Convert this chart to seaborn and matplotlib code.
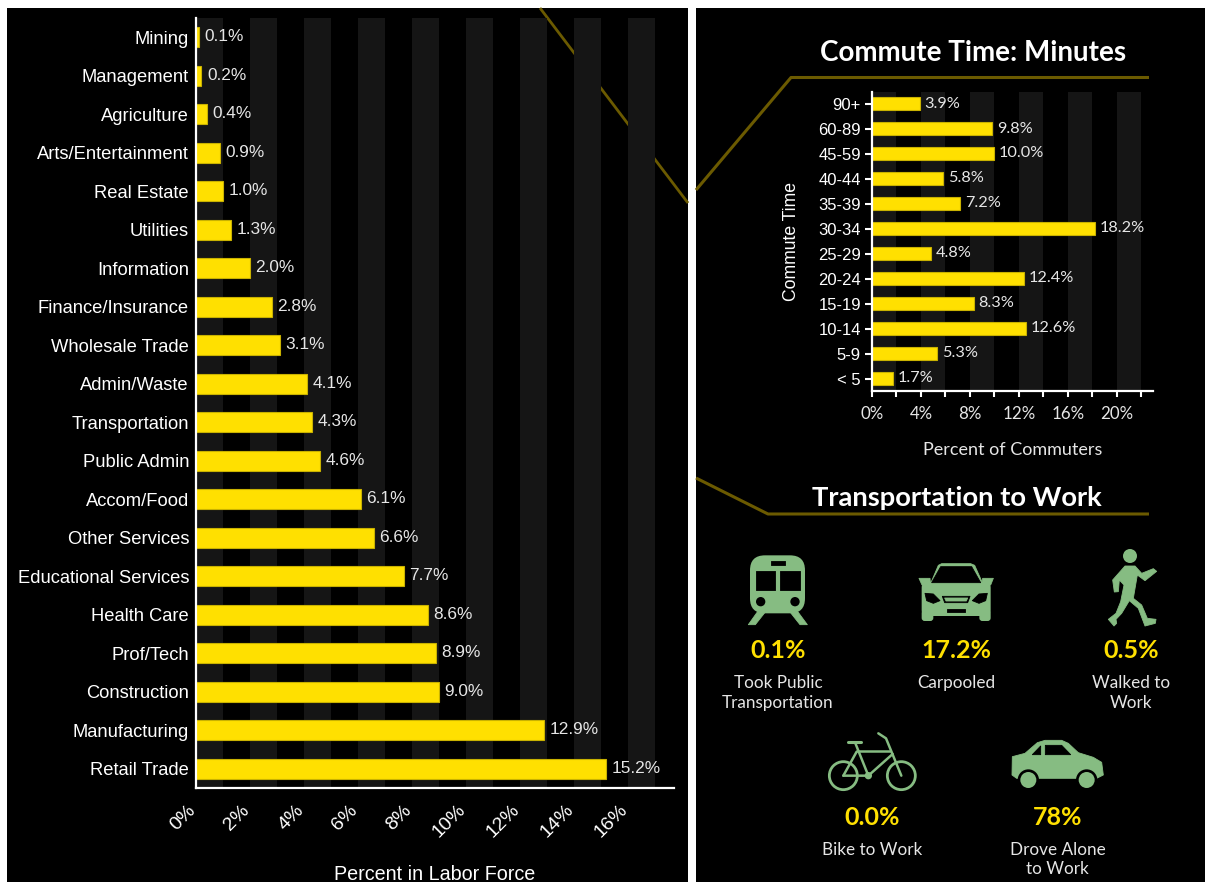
import matplotlib
matplotlib.use('Agg')
import matplotlib.pyplot as plt
import numpy as np
import pandas as pd
import seaborn as sns
from matplotlib.patches import Circle, FancyBboxPatch, Polygon, Rectangle
from matplotlib.transforms import ScaledTranslation

industries = ['Mining', 'Management', 'Agriculture', 'Arts/Entertainment', 'Real Estate',
              'Utilities', 'Information', 'Finance/Insurance', 'Wholesale Trade', 'Admin/Waste',
              'Transportation', 'Public Admin', 'Accom/Food', 'Other Services',
              'Educational Services', 'Health Care', 'Prof/Tech', 'Construction',
              'Manufacturing', 'Retail Trade']
industry_pct = [0.1, 0.2, 0.4, 0.9, 1.0, 1.3, 2.0, 2.8, 3.1, 4.1,
                4.3, 4.6, 6.1, 6.6, 7.7, 8.6, 8.9, 9.0, 12.9, 15.2]
industry_ticks = [0, 2, 4, 6, 8, 10, 12, 14, 16]

commute_bins = ['90+', '60-89', '45-59', '40-44', '35-39', '30-34',
                '25-29', '20-24', '15-19', '10-14', '5-9', '< 5']
commute_pct = [3.9, 9.8, 10.0, 5.8, 7.2, 18.2, 4.8, 12.4, 8.3, 12.6, 5.3, 1.7]
commute_ticks = [0, 2, 4, 6, 8, 10, 12, 14, 16, 18, 20, 22]
commute_tick_labels = ['0%', '', '4%', '', '8%', '', '12%', '', '16%', '', '20%', '']

transport_pct = ['0.1%', '17.2%', '0.5%', '0.0%', '78%']
transport_names = ['Took Public\nTransportation', 'Carpooled', 'Walked to\nWork',
                   'Bike to Work', 'Drove Alone\nto Work']

W, H = 1205, 882
YELLOW = '#FFE000'
BAR_EDGE = '#C9B200'
GOLD = '#6B5A00'
BAND = '#151515'
GREEN = '#86BC82'
TEXT = '#E6E6E6'

sns.set_style('white')
plt.rcParams['font.family'] = ['Liberation Sans', 'DejaVu Sans']


def px_axes(fig, left, top, right, bottom):
    return fig.add_axes([left / W, 1 - bottom / H, (right - left) / W, (bottom - top) / H], zorder=2)


def draw_bars(ax, cats, vals, bar_h, band_step, x_max, label_font, label_size, pad):
    df = pd.DataFrame({'cat': cats, 'pct': vals})
    ax.patch.set_visible(False)
    for start in np.arange(0, x_max, band_step * 2):
        ax.axvspan(start, min(start + band_step, x_max), color=BAND, lw=0, zorder=0)
    sns.barplot(data=df, x='pct', y='cat', orient='h', color=YELLOW, saturation=1, width=bar_h,
                edgecolor=BAR_EDGE, linewidth=0.8, ax=ax, zorder=2)
    anns = ax.bar_label(ax.containers[0], labels=['{:.1f}%'.format(v) for v in vals], padding=pad,
                        color=TEXT, fontsize=label_size, family=label_font)
    # value labels sit a little above the bar centre
    for ann in anns:
        ann.xyann = (ann.xyann[0], ann.xyann[1] + 0.3)
    ax.set_xlim(0, x_max)
    ax.set_ylim(len(cats) - 0.5, -0.5)
    sns.despine(ax=ax)
    for side in ['left', 'bottom']:
        ax.spines[side].set_color('white')
        ax.spines[side].set_linewidth(1.6)


fig = plt.figure(figsize=(W / 100, H / 100), dpi=100, facecolor='white')

# full-figure layer in pixel coordinates for panels, rules, titles, icons
bg = fig.add_axes([0, 0, 1, 1], zorder=1)
bg.set_xlim(0, W)
bg.set_ylim(H, 0)
bg.axis('off')
bg.add_patch(Rectangle((7, 8), 681, H - 8, color='black', lw=0))
bg.add_patch(Rectangle((696, 8), W - 696, H - 8, color='black', lw=0))

bg.plot([540, 688], [8, 203], color=GOLD, lw=2, solid_capstyle='butt')
bg.plot([696, 791, 1149], [190, 77.5, 77.5], color=GOLD, lw=2.2, solid_capstyle='butt')
bg.plot([696, 768, 1149], [478, 514, 514], color=GOLD, lw=2.2, solid_capstyle='butt')

# left chart
ax1 = px_axes(fig, 196, 18, 674, 788)
draw_bars(ax1, industries, industry_pct, 0.52, 1, 17.72, 'Liberation Sans', 12.4, 4)
ax1.set_xticks(industry_ticks)
ax1.set_xticklabels(['{}%'.format(t) for t in industry_ticks], rotation=45, ha='right', va='center',
                    rotation_mode='anchor', color='white', fontsize=14)
ax1.tick_params(axis='x', length=0, pad=14)
for lab in ax1.get_xticklabels():
    lab.set_transform(lab.get_transform() + ScaledTranslation(-2 / 72, 0, fig.dpi_scale_trans))
ax1.tick_params(axis='y', length=0, pad=5, labelsize=13.2, labelcolor='white')
ax1.set_xlabel('Percent in Labor Force', color='white', fontsize=14.2)
ax1.xaxis.set_label_coords(0.5, -0.1)
ax1.set_ylabel('')

# right chart
ax2 = px_axes(fig, 872, 91.5, 1153, 391)
draw_bars(ax2, commute_bins, commute_pct, 0.52, 2, 22.97, 'Lato', 11.7, 3.5)
ax2.set_xticks(commute_ticks)
ax2.set_xticklabels(commute_tick_labels, color=TEXT, fontsize=12.2, family='Lato')
ax2.tick_params(axis='x', length=4.5, width=1.5, color='white', pad=6, bottom=True)
ax2.tick_params(axis='y', length=5, width=1.5, color='white', pad=3, left=True,
                labelsize=12, labelcolor='white')
ax2.set_xlabel('Percent of Commuters', color=TEXT, fontsize=13, family='Lato', labelpad=15)
ax2.set_ylabel('Commute Time', color='white', fontsize=12.7, labelpad=13)

# titles
bg.text(973.5, 53, 'Commute Time: Minutes', color='white', fontsize=20, fontweight='bold',
        family='Lato', ha='center', va='center')
bg.text(956.5, 497.5, 'Transportation to Work', color='white', fontsize=19.7, fontweight='bold',
        family='Lato', ha='center', va='center')


# icons are sketched in coordinates of a 3x crop starting at (700, 530)
def cx(x):
    return 700 + x / 3


def cy(y):
    return 530 + y / 3


def poly(points, color=GREEN):
    pts = [(cx(x), cy(y)) for x, y in points]
    bg.add_patch(Polygon(pts, closed=True, facecolor=color, edgecolor=color, lw=0.6, joinstyle='round'))


def disc(x, y, r, color=GREEN):
    bg.add_patch(Circle((cx(x), cy(y)), r / 3, facecolor=color, edgecolor='none'))


def ring(x, y, r, lw=2):
    bg.add_patch(Circle((cx(x), cy(y)), r / 3, facecolor='none', edgecolor=GREEN, lw=lw))


def stroke(points, lw=2):
    bg.plot([cx(p[0]) for p in points], [cy(p[1]) for p in points], color=GREEN, lw=lw,
            solid_capstyle='round', solid_joinstyle='round')


def box(x0, y0, x1, y1, rad, color=GREEN):
    bg.add_patch(FancyBboxPatch((cx(x0) + rad, cy(y0) + rad), (x1 - x0) / 3 - 2 * rad,
                                (y1 - y0) / 3 - 2 * rad, boxstyle='round,pad={}'.format(rad),
                                facecolor=color, edgecolor='none', mutation_aspect=1))


# train
box(150, 76, 315, 250, 15)
poly([(167, 122), (225, 122), (225, 180), (167, 180)], 'black')
poly([(241, 122), (300, 122), (300, 180), (241, 180)], 'black')
poly([(212, 92), (255, 92), (255, 105), (212, 105)], 'black')
disc(182, 215, 14, 'black')
disc(285, 215, 14, 'black')
poly([(172, 246), (196, 246), (166, 284), (145, 284)])
poly([(270, 246), (294, 246), (322, 284), (300, 284)])

# front car
poly([(692, 160), (715, 106), (725, 101), (812, 101), (824, 106), (848, 160)])
poly([(657, 145), (690, 145), (692, 165), (666, 165)])
poly([(848, 145), (880, 145), (872, 165), (846, 165)])
box(665, 155, 872, 258, 6)
box(665, 240, 700, 273, 3)
box(838, 240, 872, 273, 3)
poly([(695, 158), (722, 110), (815, 110), (842, 158)], 'black')
poly([(675, 190), (700, 192), (720, 212), (700, 220), (680, 212)], 'black')
poly([(862, 190), (837, 192), (817, 212), (837, 220), (857, 212)], 'black')
poly([(727, 199), (810, 199), (803, 218), (734, 218)], 'black')
poly([(734, 204), (803, 204), (799, 213), (738, 213)])
poly([(742, 238), (795, 238), (795, 245), (742, 245)], 'black')

# walker
disc(1290, 78, 21)
poly([(1275, 108), (1305, 108), (1325, 130), (1360, 116), (1370, 124), (1335, 152), (1312, 135),
      (1300, 205), (1325, 225), (1342, 265), (1368, 268), (1366, 280), (1335, 288), (1315, 235),
      (1288, 212), (1265, 250), (1248, 268), (1250, 280), (1242, 288), (1225, 268), (1248, 250),
      (1262, 215), (1272, 165), (1258, 150), (1255, 185), (1243, 186), (1238, 150)])

# bicycle
ring(430, 737, 42)
ring(604, 737, 42)
disc(505, 737, 11)
stroke([(430, 737), (505, 737), (578, 672)], 1.8)
stroke([(430, 737), (470, 665)], 1.8)
stroke([(470, 662), (570, 662)], 1.8)
stroke([(445, 637), (484, 637)], 2.2)
stroke([(465, 637), (505, 737)], 1.8)
stroke([(535, 610), (558, 625), (604, 737)], 1.8)

# side car
poly([(937, 680), (975, 670), (1012, 638), (1035, 631), (1085, 631), (1105, 640), (1135, 668),
      (1180, 682), (1205, 697), (1210, 735), (1190, 745), (950, 745), (936, 735)])
poly([(997, 674), (1022, 648), (1022, 674)], 'black')
poly([(1036, 674), (1036, 646), (1085, 646), (1112, 674)], 'black')
for wheel_x in [985, 1160]:
    disc(wheel_x, 750, 32, 'black')
    disc(wheel_x, 750, 24)

# transport figures
stat_x = [778, 956, 1131, 872.5, 1057.5]
stat_y = [651, 651, 651, 817.5, 817.5]
name_y = [693, 683, 693, 850, 859.5]
for i in range(5):
    bg.text(stat_x[i], stat_y[i], transport_pct[i], color=YELLOW, fontsize=18, fontweight='bold',
            family='Lato', ha='center', va='center')
    bg.text(stat_x[i], name_y[i], transport_names[i], color=TEXT, fontsize=12.3, family='Lato',
            ha='center', va='center', linespacing=1.25)

fig.savefig('out.png', dpi=100, facecolor='white')
